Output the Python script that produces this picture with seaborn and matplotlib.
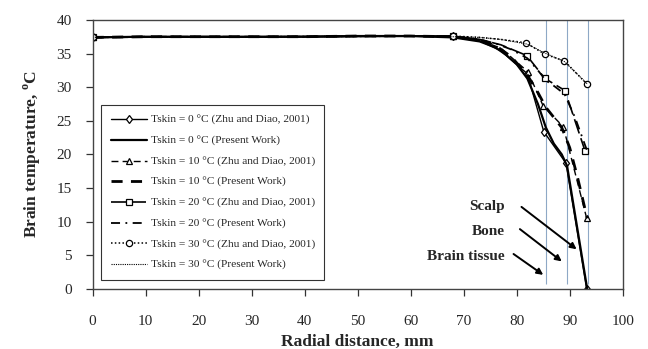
import numpy as np
import pandas as pd
import matplotlib
matplotlib.use("Agg")
import matplotlib.pyplot as plt
import seaborn as sns

# ---------------- data ----------------
zhu0_x = [0, 68, 73, 77, 82.0, 85.1, 89.3, 93.2]
zhu0_y = [37.4, 37.6, 36.9, 35.4, 32.0, 23.4, 18.7, 0.0]
zhu10_x = [0, 68, 73, 77, 82.1, 85.0, 88.8, 93.2]
zhu10_y = [37.4, 37.6, 37.0, 35.8, 32.3, 27.2, 24.1, 10.5]
zhu20_x = [0, 68, 73, 77, 81.9, 85.3, 89.1, 92.9]
zhu20_y = [37.4, 37.6, 37.1, 36.3, 34.7, 31.3, 29.5, 20.5]
zhu30_x = [0, 68, 73, 77, 81.7, 85.3, 89.0, 93.2]
zhu30_y = [37.4, 37.6, 37.4, 37.1, 36.6, 34.9, 33.9, 30.5]

pw0_x = [0, 10, 20, 30, 40, 50, 60, 68, 73, 76, 78, 80, 82, 84, 85.5, 87, 88.5, 89.5, 93.3]
pw0_y = [37.4, 37.5, 37.5, 37.5, 37.5, 37.6, 37.6, 37.4, 36.8, 35.9, 34.8, 33.4, 31.3, 27.5, 24.0, 21.6, 20.0, 18.3, 0.0]
pw10_x = [0, 10, 20, 30, 40, 50, 60, 68, 73, 76, 79, 82, 84, 85.5, 87, 88.5, 90, 91.5, 93.3]
pw10_y = [37.4, 37.5, 37.5, 37.5, 37.5, 37.6, 37.6, 37.5, 37.0, 36.2, 34.5, 31.8, 29.2, 27.0, 25.5, 24.0, 21.0, 16.5, 10.5]
pw20_x = [0, 10, 20, 30, 40, 50, 60, 68, 73, 76, 79, 82, 84, 85.5, 87, 89, 91, 93.3]
pw20_y = [37.4, 37.5, 37.5, 37.5, 37.5, 37.6, 37.6, 37.5, 37.1, 36.5, 35.6, 34.3, 32.5, 31.0, 30.2, 29.0, 25.5, 20.5]
pw30_x = [0, 10, 20, 30, 40, 50, 60, 68, 73, 77, 82, 85.5, 89, 93.3]
pw30_y = [37.4, 37.5, 37.5, 37.5, 37.5, 37.6, 37.6, 37.5, 37.4, 37.1, 36.4, 35.0, 33.8, 30.5]

labels = [
    "Tskin = 0 \u00b0C (Zhu and Diao, 2001)",
    "Tskin = 0 \u00b0C (Present Work)",
    "Tskin = 10 \u00b0C (Zhu and Diao, 2001)",
    "Tskin = 10 \u00b0C (Present Work)",
    "Tskin = 20 \u00b0C (Zhu and Diao, 2001)",
    "Tskin = 20 \u00b0C (Present Work)",
    "Tskin = 30 \u00b0C (Zhu and Diao, 2001)",
    "Tskin = 30 \u00b0C (Present Work)",
]
layer_bounds = [85.6, 89.5, 93.4]
region_names = ["Scalp", "Bone", "Brain tissue"]
x_ticks = [0, 10, 20, 30, 40, 50, 60, 70, 80, 90, 100]
y_ticks = [0, 5, 10, 15, 20, 25, 30, 35, 40]

# ---------------- style ----------------
sns.set_theme(style="white")
plt.rcParams["font.family"] = ["Liberation Serif", "DejaVu Serif"]
plt.rcParams["mathtext.fontset"] = "custom"
plt.rcParams["mathtext.rm"] = "Liberation Serif"
plt.rcParams["mathtext.bf"] = "Liberation Serif:bold"

fig = plt.figure(figsize=(6.48, 3.49), dpi=100)
ax = fig.add_axes([0.143, 0.172, 0.818, 0.771])

mk_idx = [0, 1, 4, 5, 6, 7]
series = [
    (zhu0_x, zhu0_y, dict(linestyle="-", lw=1.0, marker="d", ms=4.5, markevery=mk_idx)),
    (pw0_x, pw0_y, dict(linestyle="-", lw=1.6)),
    (zhu10_x, zhu10_y, dict(linestyle=(0, (5, 3)), lw=1.0, marker="^", ms=4.5, markevery=mk_idx)),
    (pw10_x, pw10_y, dict(linestyle=(0, (4, 3)), lw=2.0)),
    (zhu20_x, zhu20_y, dict(linestyle=(0, (9, 3)), lw=1.2, marker="s", ms=4.5, markevery=mk_idx)),
    (pw20_x, pw20_y, dict(linestyle=(0, (5, 3, 1, 3)), lw=1.3)),
    (zhu30_x, zhu30_y, dict(linestyle=(0, (1, 1.5)), lw=1.1, marker="o", ms=4.5, markevery=mk_idx)),
    (pw30_x, pw30_y, dict(linestyle=(0, (1, 1)), lw=0.8)),
]

for (xs, ys, kw), lab in zip(series, labels):
    df = pd.DataFrame({"x": xs, "y": ys})
    sns.lineplot(data=df, x="x", y="y", ax=ax, color="black", label=lab,
                 markerfacecolor="white", markeredgecolor="black",
                 markeredgewidth=0.9, **kw)

ax.vlines(layer_bounds, 0.7, 40, colors="#8ea8c6", linewidth=0.8, zorder=0)

ax.set_xlim(0, 100)
ax.set_ylim(0, 40)
ax.set_xticks(x_ticks)
ax.set_yticks(y_ticks)
ax.tick_params(axis="both", direction="out", length=5, width=0.9, color="#333333",
               labelsize=11, bottom=True, left=True, top=False, right=False)
ax.tick_params(axis="x", pad=14)
ax.tick_params(axis="y", pad=10)
for s in ax.spines.values():
    s.set_color("#444444")
    s.set_linewidth(1.0)

ax.set_xlabel("Radial distance, mm", fontsize=12.5, fontweight="bold", labelpad=4)
ax.set_ylabel(r"Brain temperature, $^{\mathbf{o}}$C", fontsize=12.5, fontweight="bold", labelpad=10)

leg = ax.legend(loc="lower left", bbox_to_anchor=(0.0157, 0.0335), borderaxespad=0,
                fontsize=8.2, frameon=True, fancybox=False, edgecolor="black",
                handlelength=3.2, labelspacing=0.92, borderpad=0.85, handletextpad=0.3)
leg.get_frame().set_linewidth(0.8)

text_pos = [(77.8, 12.2), (77.8, 8.5), (77.8, 4.8)]
arrow_tail = [(80.9, 12.2), (80.6, 8.9), (79.4, 5.2)]
arrow_head = [(91.3, 5.9), (88.5, 4.1), (85.0, 2.1)]
for name, tp, tail, head in zip(region_names, text_pos, arrow_tail, arrow_head):
    ax.text(tp[0], tp[1], name, ha="right", va="center", fontsize=11, fontweight="bold")
    ax.annotate("", xy=head, xytext=tail,
                arrowprops=dict(arrowstyle="-|>", color="black", lw=1.4,
                                mutation_scale=9, shrinkA=0, shrinkB=0))

fig.savefig("out.png", dpi=100)
